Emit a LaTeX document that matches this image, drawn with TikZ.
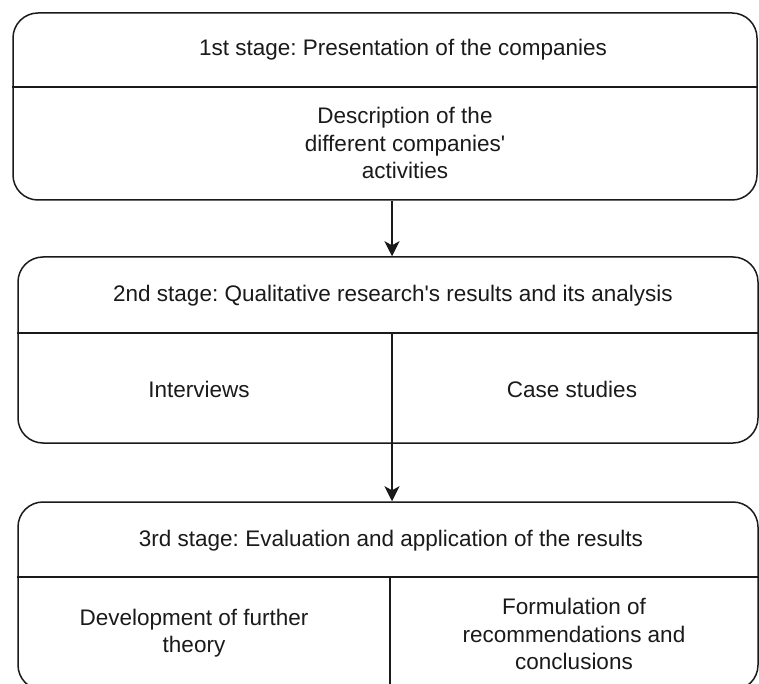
\documentclass[tikz,border=0pt]{standalone}
\usepackage{fontspec}
\setmainfont{Liberation Sans}[Ligatures={NoCommon}]
\usetikzlibrary{arrows.meta}
\definecolor{ink}{HTML}{1A1A1A}
\frenchspacing
\tikzset{
  stagebox/.style={draw=ink, line width=1.5pt, rounded corners=25pt, inner sep=0pt},
  rule/.style={draw=ink, line width=1.5pt},
  label/.style={text=ink, align=center, inner sep=0pt, font=\fontsize{22.5}{27.5}\selectfont},
  arr/.style={draw=ink, line width=1.5pt, -{Stealth[length=15pt, width=15pt, inset=4pt]}},
}
\begin{document}
\begin{tikzpicture}[x=1pt, y=-1pt]
  \useasboundingbox (0,0) rectangle (759,684);
  \clip (0,0) rectangle (759,684);
  \fill[white] (0,0) rectangle (759,684);

  % stage frames
  \node[stagebox, minimum width=744pt, minimum height=187pt] (b1) at (385,106.5) {};
  \node[stagebox, minimum width=740pt, minimum height=186pt] (b2) at (388,350) {};
  \node[stagebox, minimum width=740pt, minimum height=188pt] (b3) at (388,596) {};

  % header dividers
  \coordinate (d1) at (0,87);
  \coordinate (d2) at (0,333);
  \coordinate (d3) at (0,577);
  \draw[rule] (b1.west |- d1) -- (b1.east |- d1);
  \draw[rule] (b2.west |- d2) -- (b2.east |- d2);
  \draw[rule] (b3.west |- d3) -- (b3.east |- d3);

  % column splits
  \coordinate (c2) at (392,0);
  \coordinate (c3) at (390,0);
  \draw[rule] (c2 |- d2) -- (c2 |- b2.south);
  \draw[rule] (c3 |- d3) -- (c3 |- b3.south);

  % texts
  \node[label] (t1) at (403,50) {1st stage: Presentation of the companies};
  \node[label] (t1b) at (405,143) {Description of the\\different companies\textquotesingle\\activities};
  \node[label] (t2) at (393,296) {2nd stage: Qualitative research\textquotesingle s results and its analysis};
  \node[label] (t2a) at (199,389) {Interviews};
  \node[label] (t2b) at (572,389) {Case studies};
  \node[label] (t3) at (391,541) {3rd stage: Evaluation and application of the results};
  \node[label] (t3a) at (194,633) {Development of further\\theory};
  \node[label] (t3b) at (574,634) {Formulation of\\recommendations and\\conclusions};

  % flow between stages
  \draw[arr] (c2 |- b1.south) -- (c2 |- b2.north);
  \draw[arr] (c2 |- b2.south) -- (c2 |- b3.north);
\end{tikzpicture}
\end{document}
